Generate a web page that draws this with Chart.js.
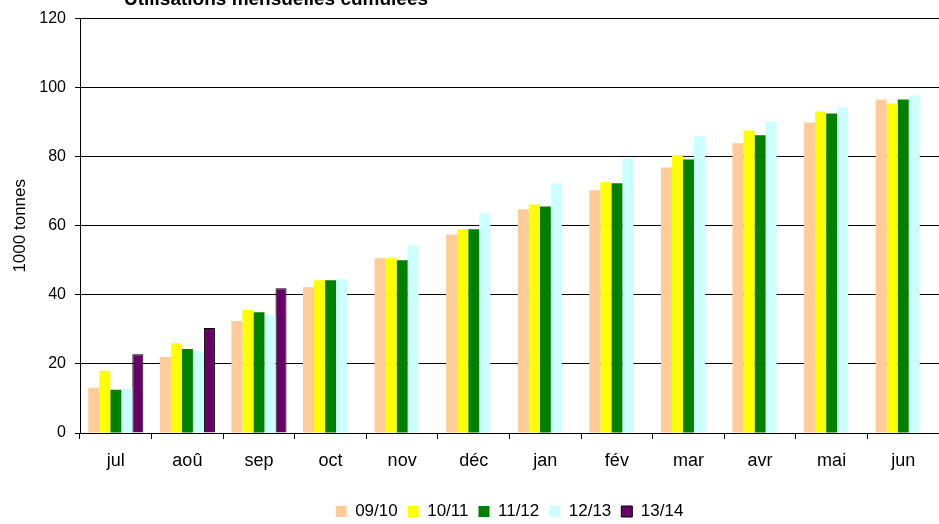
<!DOCTYPE html>
<html>
<head>
<meta charset="utf-8">
<script src="https://cdn.jsdelivr.net/npm/chart.js@4.4.0/dist/chart.umd.min.js"></script>
<style>
  html, body { margin: 0; padding: 0; background: #fff; }
  #wrap { width: 939px; height: 524px; position: relative; }
</style>
</head>
<body>
<div id="wrap"><canvas id="cumulChart"></canvas></div>
<script>
// ===== DONNÉES =====
const mois = ['jul', 'aoû', 'sep', 'oct', 'nov', 'déc', 'jan', 'fév', 'mar', 'avr', 'mai', 'jun'];
const saisons = ['09/10', '10/11', '11/12', '12/13', '13/14'];
const couleurs = ['#FFCC99', '#FFFF00', '#008000', '#CCFFFF', '#660066'];

const s0910 = [13.1, 22.0, 32.4, 42.2, 50.6, 57.5, 64.8, 70.3, 76.9, 83.9, 89.9, 96.6];
const s1011 = [18.0, 26.0, 35.6, 44.2, 50.6, 59.0, 66.2, 72.6, 80.4, 87.6, 93.1, 95.4];
const s1112 = [12.5, 24.3, 35.0, 44.2, 50.0, 59.0, 65.6, 72.3, 79.2, 86.2, 92.5, 96.6];
const s1213 = [12.8, 23.7, 34.2, 44.5, 54.4, 63.6, 72.3, 79.5, 85.9, 90.2, 94.3, 97.7];
const s1314 = [22.8, 30.4, 41.9, null, null, null, null, null, null, null, null, null];

const yTicks = [0, 20, 40, 60, 80, 100, 120];

const series = [s0910, s1011, s1112, s1213, s1314];
const POLICE = '"Liberation Sans", Arial, sans-serif';

// titre coupé en haut, comme dans l'original
const titrePlugin = {
    id: 'titreCoupe',
    afterLayout(chart) {
        // légende décalée vers la droite comme dans Excel
        chart.legend.left += 40;
        chart.legend.right += 40;
    },
    afterDraw(chart) {
        const ctx = chart.ctx;
        ctx.save();
        ctx.font = 'bold 19px ' + POLICE;
        ctx.fillStyle = '#000';
        ctx.textAlign = 'center';
        ctx.textBaseline = 'alphabetic';
        ctx.fillText('Utilisations mensuelles cumulées', 276, 5);
        ctx.restore();
    }
};

const ctx = document.getElementById('cumulChart').getContext('2d');
new Chart(ctx, {
    type: 'bar',
    data: {
        labels: mois,
        datasets: series.map((vals, i) => ({
            label: saisons[i],
            data: vals,
            backgroundColor: couleurs[i],
            borderColor: i === 4 ? '#000' : couleurs[i],
            borderWidth: i === 4 ? 1 : 0,
            categoryPercentage: 0.77,
            barPercentage: 1.0
        }))
    },
    options: {
        responsive: true,
        maintainAspectRatio: false,
        animation: false,
        layout: { padding: { top: 17, right: 0, left: 0, bottom: -6 } },
        plugins: {
            title: { display: false },
            tooltip: { enabled: false },
            legend: {
                position: 'bottom',
                labels: {
                    font: { family: POLICE, size: 17 },
                    color: '#000',
                    boxWidth: 11,
                    boxHeight: 11,
                    padding: 10,
                    generateLabels(chart) {
                        return saisons.map((s, i) => ({
                            text: s,
                            fillStyle: couleurs[i],
                            strokeStyle: i === 4 ? '#000' : couleurs[i],
                            lineWidth: i === 4 ? 1 : 0,
                            hidden: false,
                            datasetIndex: i,
                            fontColor: '#000'
                        }));
                    }
                }
            }
        },
        scales: {
            x: {
                grid: {
                    offset: true,
                    drawOnChartArea: false,
                    color: '#000',
                    tickLength: 6,
                    tickColor: '#000'
                },
                border: { color: '#000' },
                ticks: {
                    font: { family: POLICE, size: 18 },
                    color: '#000',
                    padding: 11,
                    maxRotation: 0
                },
                afterFit(scale) { scale.height = 60; }
            },
            y: {
                min: 0,
                max: 120,
                afterBuildTicks(scale) { scale.ticks = yTicks.map(v => ({ value: v })); },
                grid: {
                    color: '#000',
                    tickLength: 5,
                    tickColor: '#000'
                },
                border: { color: '#000' },
                ticks: {
                    font: { family: POLICE, size: 16 },
                    color: '#000',
                    padding: 9
                },
                title: {
                    display: true,
                    text: '1000 tonnes',
                    font: { family: POLICE, size: 17 },
                    color: '#000',
                    padding: { top: 10, bottom: 0 }
                },
                afterFit(scale) { scale.width = 80; }
            }
        }
    },
    plugins: [titrePlugin]
});
</script>
</body>
</html>
